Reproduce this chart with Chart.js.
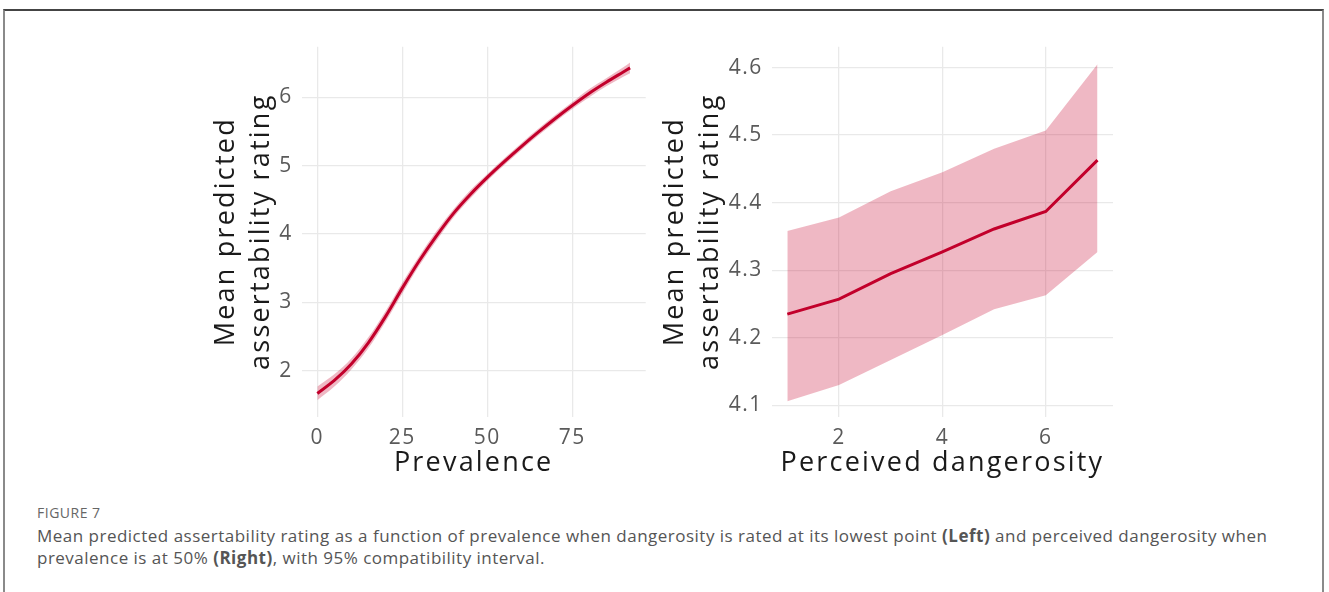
<!DOCTYPE html>
<html>
<head>
<meta charset="utf-8">
<script src="https://cdn.jsdelivr.net/npm/chart.js@4"></script>
<style>
  html, body { margin: 0; padding: 0; background: #fff; }
  body { width: 1329px; height: 592px; position: relative; overflow: hidden; }
  #frame { position: absolute; left: 3px; top: 9px; width: 1321px; height: 600px;
           border-top: 2px solid #444; border-left: 2px solid #8a8a8a; border-right: 2px solid #8a8a8a; box-sizing: border-box; }
  .panel { position: absolute; }
  #left { left: 190px; top: 36px; }
  #right { left: 650px; top: 36px; }
  #figlabel { position: absolute; left: 37px; top: 503px; font-family: "Open Sans", sans-serif; font-size: 14px; color: #666; letter-spacing: 0.5px; }
  #caption { position: absolute; left: 37px; top: 525px; font-family: "Open Sans", sans-serif; font-size: 17px; line-height: 22px; color: #555; white-space: nowrap; letter-spacing: 0.49px; }
  #caption b { color: #555; font-weight: 700; }
</style>
</head>
<body>
<div id="frame"></div>
<canvas id="left" class="panel" width="465" height="450"></canvas>
<canvas id="right" class="panel" width="480" height="450"></canvas>
<div id="figlabel">FIGURE 7</div>
<div id="caption">Mean predicted assertability rating as a function of prevalence when dangerosity is rated at its lowest point <b>(Left)</b> and perceived dangerosity when<br>prevalence is at 50% <b>(Right)</b>, with 95% compatibility interval.</div>
<script>
// Left panel: prevalence (dangerosity at its lowest point)
const prevalence = [0, 5, 10, 15, 20, 25, 30, 35, 40, 45, 50, 55, 60, 65, 70, 75, 80, 85, 90, 92];
const prevMean   = [1.67, 1.86, 2.10, 2.41, 2.79, 3.21, 3.61, 3.97, 4.30, 4.58, 4.83, 5.06, 5.28, 5.49, 5.69, 5.88, 6.06, 6.22, 6.37, 6.43];
const prevLower  = [1.57, 1.77, 2.02, 2.33, 2.71, 3.13, 3.54, 3.90, 4.24, 4.52, 4.78, 5.01, 5.23, 5.44, 5.64, 5.83, 6.00, 6.16, 6.30, 6.35];
const prevUpper  = [1.77, 1.95, 2.18, 2.49, 2.87, 3.29, 3.68, 4.04, 4.36, 4.64, 4.88, 5.11, 5.33, 5.54, 5.74, 5.93, 6.12, 6.28, 6.44, 6.51];
const prevXTicks = [0, 25, 50, 75];
const prevXLabels = ['0', '25', '50', '75'];
const prevYTicks = [2, 3, 4, 5, 6];
const prevYLabels = ['2', '3', '4', '5', '6'];

// Right panel: perceived dangerosity (prevalence at 50%)
const dangerosity = [1, 2, 3, 4, 5, 6, 7];
const dangMean    = [4.235, 4.257, 4.295, 4.327, 4.361, 4.387, 4.463];
const dangLower   = [4.106, 4.130, 4.167, 4.204, 4.242, 4.263, 4.327];
const dangUpper   = [4.358, 4.378, 4.417, 4.445, 4.480, 4.507, 4.605];
const dangXTicks  = [2, 4, 6];
const dangXLabels = ['2', '4', '6'];
const dangYTicks  = [4.1, 4.2, 4.3, 4.4, 4.5, 4.6];
const dangYLabels = ['4.1', '4.2', '4.3', '4.4', '4.5', '4.6'];

const yTitle = ['Mean predicted', 'assertability rating'];
const LINE = '#c1002c';
const BAND = 'rgba(196, 0, 44, 0.28)';
const GRID = '#e9e9e9';
const TICK = '#5a5a5a';
const FONT = '"Open Sans", sans-serif';

// wider tracking for axis titles and tick labels
const TITLE_SPACING = '2.2px';
const LABEL_SPACING = '1.5px';
const origTitle = Chart.LinearScale.prototype.drawTitle;
const origLabels = Chart.LinearScale.prototype.drawLabels;
Chart.LinearScale.prototype.drawTitle = function () {
  this.ctx.letterSpacing = TITLE_SPACING;
  origTitle.apply(this, arguments);
  this.ctx.letterSpacing = '0px';
};
Chart.LinearScale.prototype.drawLabels = function () {
  this.ctx.letterSpacing = LABEL_SPACING;
  origLabels.apply(this, arguments);
  this.ctx.letterSpacing = '0px';
};

function pts(xs, ys) { return xs.map((x, i) => ({ x: x, y: ys[i] })); }

function makePanel(id, cfg) {
  return new Chart(document.getElementById(id), {
    type: 'line',
    data: {
      datasets: [
        { data: pts(cfg.x, cfg.upper), borderWidth: 0, pointRadius: 0, fill: '+1', backgroundColor: BAND, tension: cfg.tension, cubicInterpolationMode: cfg.cim },
        { data: pts(cfg.x, cfg.lower), borderWidth: 0, pointRadius: 0, fill: false, tension: cfg.tension, cubicInterpolationMode: cfg.cim },
        { data: pts(cfg.x, cfg.mean), borderColor: LINE, borderWidth: 3, pointRadius: 0, fill: false, tension: cfg.tension, cubicInterpolationMode: cfg.cim, borderCapStyle: 'butt' }
      ]
    },
    options: {
      responsive: false,
      animation: false,
      devicePixelRatio: 1,
      layout: { padding: { top: cfg.padTop, right: cfg.padRight, left: 0, bottom: 0 } },
      plugins: { legend: { display: false }, tooltip: { enabled: false } },
      scales: {
        x: {
          type: 'linear', min: cfg.xmin, max: cfg.xmax,
          grid: { color: GRID, lineWidth: 1.3, drawTicks: false },
          border: { display: false },
          ticks: { padding: 9, color: TICK, font: { family: FONT, size: 21 }, includeBounds: false, maxRotation: 0,
                   callback: v => cfg.xlabels[cfg.xticks.indexOf(v)] },
          afterBuildTicks: s => { s.ticks = cfg.xticks.map(v => ({ value: v })); },
          afterFit: s => { s.height = cfg.xAxisH; s.paddingLeft = 0; s.paddingRight = 0; },
          title: { display: true, text: cfg.xTitle, color: '#1a1a1a', font: { family: FONT, size: 27 }, padding: { top: 0, bottom: 6 } }
        },
        y: {
          type: 'linear', min: cfg.ymin, max: cfg.ymax,
          grid: { color: GRID, lineWidth: 1.3, drawTicks: false },
          border: { display: false },
          ticks: { padding: 9, color: TICK, font: { family: FONT, size: 21 }, includeBounds: false,
                   callback: v => cfg.ylabels[cfg.yticks.findIndex(t => Math.abs(t - v) < 1e-9)] },
          afterBuildTicks: s => { s.ticks = cfg.yticks.map(v => ({ value: v })); },
          afterFit: s => { s.width = cfg.yAxisW; s.paddingTop = 0; s.paddingBottom = 0; },
          title: { display: true, text: yTitle, color: '#1a1a1a', font: { family: FONT, size: 27, lineHeight: 35 / 27 }, padding: { top: cfg.titlePad, bottom: 0 } }
        }
      }
    }
  });
}

makePanel('left', {
  x: prevalence, mean: prevMean, lower: prevLower, upper: prevUpper,
  xmin: -4.6, xmax: 96.6, ymin: 1.33, ymax: 6.74,
  xticks: prevXTicks, xlabels: prevXLabels, yticks: prevYTicks, ylabels: prevYLabels, xTitle: 'Prevalence',
  tension: 0.4, cim: 'monotone',
  padTop: 10.7, padRight: 9.3, yAxisW: 111.7, xAxisH: 69.3, titlePad: 19
});

makePanel('right', {
  x: dangerosity, mean: dangMean, lower: dangLower, upper: dangUpper,
  xmin: 0.7, xmax: 7.3, ymin: 4.083, ymax: 4.631,
  xticks: dangXTicks, xlabels: dangXLabels, yticks: dangYTicks, ylabels: dangYLabels, xTitle: 'Perceived dangerosity',
  tension: 0, cim: 'default',
  padTop: 10.7, padRight: 17, yAxisW: 121.8, xAxisH: 69.3, titlePad: 7.5
});
</script>
</body>
</html>
